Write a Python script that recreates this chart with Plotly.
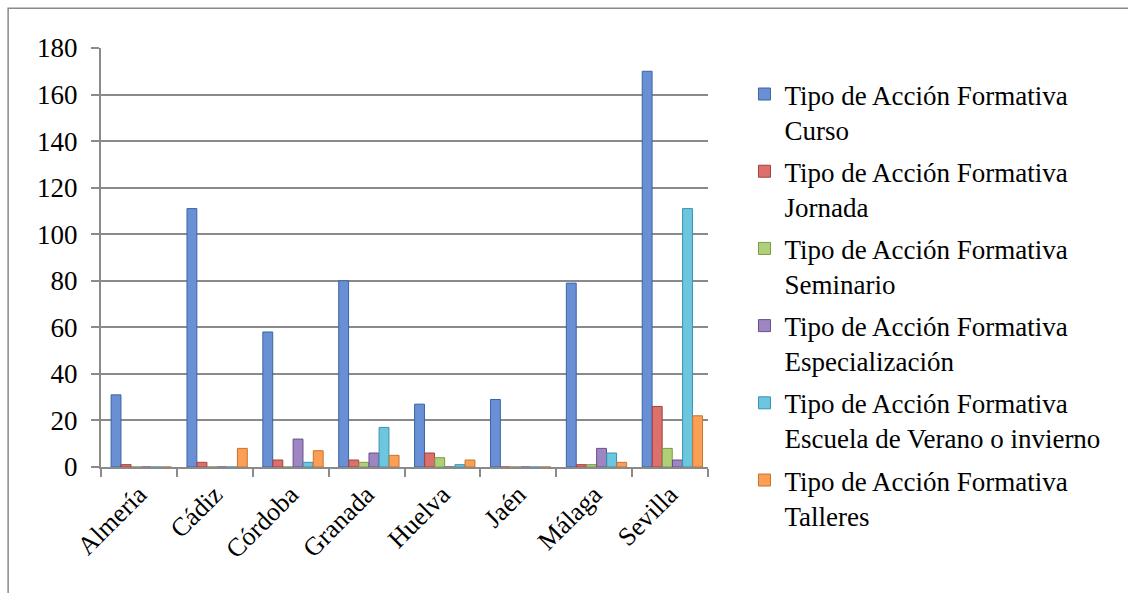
import plotly.graph_objects as go

# Provincias andaluzas
provincias = ["Almería", "Cádiz", "Córdoba", "Granada", "Huelva", "Jaén", "Málaga", "Sevilla"]

# Número de acciones formativas por tipo
curso = [31, 111, 58, 80, 27, 29, 79, 170]
jornada = [1, 2, 3, 3, 6, 0, 1, 26]
seminario = [0, 0, 0, 2, 4, 0, 1, 8]
especializacion = [0, 0, 12, 6, 0, 0, 8, 3]
escuela = [0, 0, 2, 17, 1, 0, 6, 111]
talleres = [0, 8, 7, 5, 3, 0, 2, 22]

series_names = [
    "Tipo de Acción Formativa<br>Curso",
    "Tipo de Acción Formativa<br>Jornada",
    "Tipo de Acción Formativa<br>Seminario",
    "Tipo de Acción Formativa<br>Especialización",
    "Tipo de Acción Formativa<br>Escuela de Verano o invierno",
    "Tipo de Acción Formativa<br>Talleres",
]
series_values = [curso, jornada, seminario, especializacion, escuela, talleres]
series_colors = ["#6990D4", "#DC706C", "#AFD078", "#9D86C2", "#6CC6E0", "#FA9F55"]
edge_colors = ["#3A64A3", "#A5403D", "#7C9A45", "#67508A", "#3A93AE", "#C9722F"]

y_ticks = list(range(0, 181, 20))

FONT = "Liberation Serif"

# Barras agrupadas algo desplazadas hacia la derecha dentro de cada categoría
BAR_WIDTH = 0.13
BAR_PITCH = 0.133
GROUP_START = -0.367

fig = go.Figure()
for i, (name, vals) in enumerate(zip(series_names, series_values)):
    fig.add_trace(go.Bar(
        x=provincias,
        y=vals,
        name=name,
        legendgroup=f"g{i}",
        width=BAR_WIDTH,
        offset=GROUP_START + i * BAR_PITCH,
        marker=dict(color=series_colors[i], line=dict(color=edge_colors[i], width=1)),
    ))

# Marco exterior del gráfico
fig.add_shape(
    type="rect", xref="paper", yref="paper",
    x0=-0.153, x1=1.72, y0=-0.33, y1=1.095,
    line=dict(color="#8A8A8A", width=1.5), fillcolor="rgba(0,0,0,0)", layer="below",
)

fig.update_layout(
    width=1128,
    height=593,
    margin=dict(l=101, r=420, t=48, b=126),
    paper_bgcolor="white",
    plot_bgcolor="white",
    barmode="overlay",
    font=dict(family=FONT, size=26, color="black"),
    showlegend=True,
    legend=dict(
        xref="container", yref="container",
        x=0.66, y=0.882, xanchor="left", yanchor="top",
        valign="top",
        tracegroupgap=4,
        maxheight=560,
        font=dict(family=FONT, size=27, color="black"),
        itemwidth=30,
        bgcolor="rgba(0,0,0,0)",
    ),
    xaxis=dict(
        tickangle=-45,
        tickfont=dict(family=FONT, size=26),
        showline=True, linecolor="#8A8A8A", linewidth=2,
        ticks="outside", ticklen=8, tickcolor="#8A8A8A", tickwidth=2,
        tickson="boundaries",
        showgrid=False,
    ),
    yaxis=dict(
        range=[0, 180],
        tickvals=y_ticks,
        tickfont=dict(family=FONT, size=27),
        ticklabelstandoff=8,
        showline=True, linecolor="#8A8A8A", linewidth=2,
        ticks="outside", ticklen=8, tickcolor="#8A8A8A", tickwidth=2,
        showgrid=True, gridcolor="#8A8A8A", gridwidth=2,
        zeroline=False,
    ),
)

fig.write_html("out.html")
